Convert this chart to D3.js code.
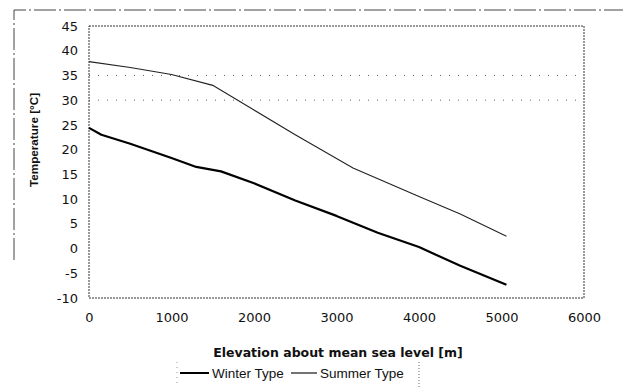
<!DOCTYPE html>
<html>
<head>
<meta charset="utf-8">
<script src="https://cdn.jsdelivr.net/npm/d3@7"></script>
<style>
  body { margin: 0; background: #fff; }
  svg { font-family: "Liberation Sans", Arial, sans-serif; }
</style>
</head>
<body>
<svg id="chart" width="623" height="387"></svg>
<script>
// elevation [m] and temperature [°C]
const winterElev = [0, 150, 500, 1000, 1300, 1600, 2000, 2500, 3000, 3500, 4000, 4500, 5060];
const winterTemp = [24.4, 23, 21.2, 18.3, 16.5, 15.6, 13.2, 9.7, 6.6, 3.2, 0.3, -3.5, -7.3];
const summerElev = [0, 500, 1000, 1500, 2000, 2500, 3200, 4000, 4500, 5060];
const summerTemp = [37.8, 36.6, 35.2, 33, 28, 23, 16.3, 10.5, 7, 2.5];
const xTicks = [0, 1000, 2000, 3000, 4000, 5000, 6000];
const yTicks = [-10, -5, 0, 5, 10, 15, 20, 25, 30, 35, 40, 45];
const gridTemps = [30, 35];
const seriesNames = ['Winter Type', 'Summer Type'];

const svg = d3.select('#chart');
const x = d3.scaleLinear().domain([0, 6000]).range([89, 584]);
const y = d3.scaleLinear().domain([-10, 45]).range([298, 26]);

// outer chart-area frame (faint, dashed like the scan)
svg.append('path')
  .attr('d', 'M14,260 L14,10 L623,10')
  .attr('fill', 'none')
  .attr('stroke', '#444')
  .attr('stroke-width', 1)
  .attr('stroke-dasharray', '22,3,2,3');

// grid
svg.append('g').selectAll('line')
  .data(gridTemps)
  .join('line')
  .attr('x1', x(0)).attr('x2', x(6000))
  .attr('y1', d => y(d)).attr('y2', d => y(d))
  .attr('stroke', '#666')
  .attr('stroke-width', 1)
  .attr('stroke-dasharray', '1,8');

// plot border
svg.append('rect')
  .attr('x', x(0)).attr('y', y(45))
  .attr('width', x(6000) - x(0)).attr('height', y(-10) - y(45))
  .attr('fill', 'none')
  .attr('stroke', '#333')
  .attr('stroke-width', 1)
  .attr('stroke-dasharray', '2,1');

// axes (labels only, frame drawn above)
const xAxis = svg.append('g')
  .attr('transform', `translate(0,${y(-10)})`)
  .call(d3.axisBottom(x).tickValues(xTicks).tickFormat(d3.format('d')).tickSize(0).tickPadding(15));
const yAxis = svg.append('g')
  .attr('transform', `translate(${x(0)},0)`)
  .call(d3.axisLeft(y).tickValues(yTicks).tickFormat(d => d < 0 ? '-' + Math.abs(d) : d).tickSize(0).tickPadding(11));
[xAxis, yAxis].forEach(g => {
  g.select('.domain').remove();
  g.selectAll('text')
    .attr('font-family', '"DejaVu Sans", Verdana, sans-serif')
    .attr('font-size', 13)
    .attr('fill', '#111');
});

// series
const line = d3.line().x(d => x(d[0])).y(d => y(d[1]));
const winter = d3.zip(winterElev, winterTemp);
const summer = d3.zip(summerElev, summerTemp);

svg.append('path')
  .datum(winter)
  .attr('d', line)
  .attr('fill', 'none')
  .attr('stroke', '#000')
  .attr('stroke-width', 2.2)
  .attr('stroke-linejoin', 'round');

svg.append('path')
  .datum(summer)
  .attr('d', line)
  .attr('fill', 'none')
  .attr('stroke', '#222')
  .attr('stroke-width', 1.1);

// axis titles
svg.append('text')
  .attr('x', 338).attr('y', 357)
  .attr('text-anchor', 'middle')
  .attr('font-family', '"DejaVu Sans", Verdana, sans-serif')
  .attr('font-size', 12.5)
  .attr('font-weight', 'bold')
  .attr('fill', '#111')
  .text('Elevation about mean sea level [m]');

svg.append('text')
  .attr('transform', 'translate(38,140) rotate(-90)')
  .attr('text-anchor', 'middle')
  .attr('font-size', 11.7)
  .attr('font-weight', 'bold')
  .attr('fill', '#111')
  .text('Temperature [°C]');

// legend
const legend = svg.append('g').attr('font-size', 13.5).attr('fill', '#111');
legend.append('line')
  .attr('x1', 419).attr('x2', 419).attr('y1', 362).attr('y2', 387)
  .attr('stroke', '#666').attr('stroke-dasharray', '1,2');
legend.append('line')
  .attr('x1', 177).attr('x2', 177).attr('y1', 362).attr('y2', 387)
  .attr('stroke', '#999').attr('stroke-dasharray', '1,4');
const items = [
  { name: seriesNames[0], lx: 180, lw: 29, sw: 2 },
  { name: seriesNames[1], lx: 291, lw: 26, sw: 1.1 }
];
items.forEach(it => {
  legend.append('line')
    .attr('x1', it.lx).attr('x2', it.lx + it.lw)
    .attr('y1', 373).attr('y2', 373)
    .attr('stroke', '#000').attr('stroke-width', it.sw);
  legend.append('text')
    .attr('x', it.lx + it.lw + 3).attr('y', 378)
    .text(it.name);
});
</script>
</body>
</html>
